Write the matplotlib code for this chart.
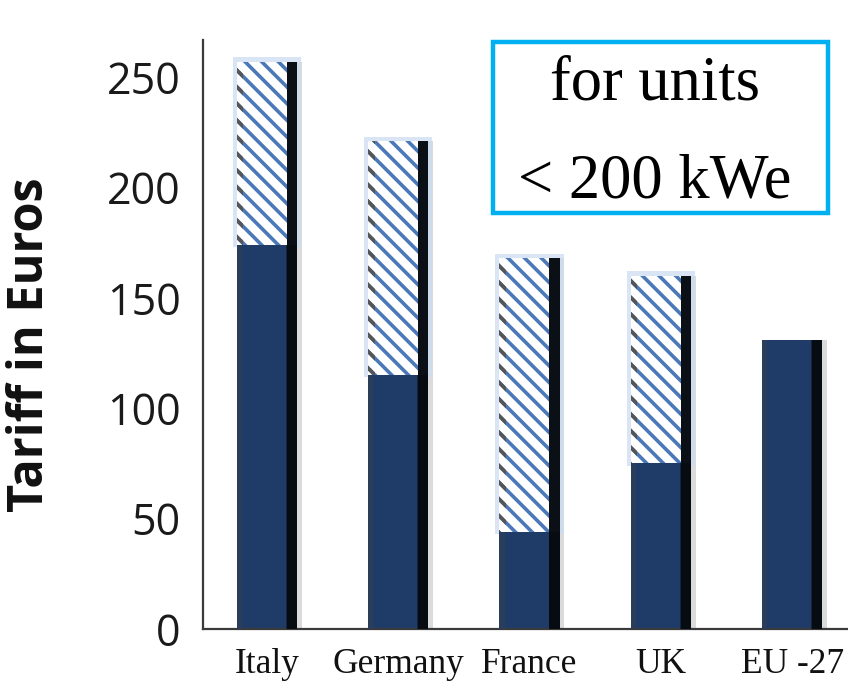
import matplotlib
matplotlib.use("Agg")
import matplotlib.pyplot as plt
from matplotlib.patches import Rectangle
import numpy as np

countries = ["Italy", "Germany", "France", "UK", "EU -27"]
base_tariff = [174, 115, 44, 75, 131]          # dark navy part
extra_tariff = [83, 106, 124, 85, 0]           # hatched part on top
y_ticks = [0, 50, 100, 150, 200, 250]
box_lines = ["for units", "< 200 kWe"]

plt.rcParams['hatch.linewidth'] = 2.6

W, H = 848, 684
fig = plt.figure(figsize=(W / 100, H / 100), dpi=100)
ax = fig.add_axes([203 / W, 55 / H, (W - 203) / W, 589 / H])

x = np.arange(len(countries))
base = np.array(base_tariff, dtype=float)
extra = np.array(extra_tariff, dtype=float)
w = 0.46
strip = 0.08

# soft shadow to the right of every bar
ax.bar(x + 0.035, base + extra, width=w, color="#9a9a9a", alpha=0.35, zorder=1, linewidth=0)

# dark navy base bars with a simple bevel look
ax.bar(x, base, width=w, color="#1F3C69", linewidth=0, zorder=2)
ax.bar(x - w / 2 + 0.02, base, width=0.04, color="#2A3E5C", linewidth=0, zorder=3)
ax.bar(x + w / 2 - strip / 2 - 0.03, base, width=0.03, color="#13243F", linewidth=0, zorder=3)
ax.bar(x + w / 2 - strip / 2, base, width=strip, color="#070B12", linewidth=0, zorder=3)

# hatched upper parts
has = extra > 0
xe, be, ee = x[has], base[has], extra[has]
ax.bar(xe, ee + 3, bottom=be - 1, width=w + 0.06, color="#C9DBF1", alpha=0.7,
       linewidth=0, zorder=1.5)
ax.bar(xe, ee, bottom=be, width=w, facecolor="white", edgecolor="#4A78B8",
       hatch="\\\\", linewidth=0, zorder=2)
ax.bar(xe - w / 2 + 0.025, ee, bottom=be, width=0.05, facecolor="none",
       edgecolor="#555555", hatch="\\\\", linewidth=0, zorder=2.5)
ax.bar(xe + w / 2 - strip / 2, ee, bottom=be, width=strip, color="#0B0F16",
       linewidth=0, zorder=3)

ax.set_xlim(-0.487, 4.425)
ax.set_ylim(0, 266.8)
ax.set_yticks(y_ticks)
ax.set_yticklabels([str(v) for v in y_ticks], family="Open Sans", fontsize=31, color="#1a1a1a")
ax.set_xticks(x)
ax.set_xticklabels(countries, family="Liberation Serif", fontsize=25.5, color="#111111")
ax.tick_params(axis="y", length=0, pad=16)
ax.tick_params(axis="x", length=0, pad=14)

for s in ["top", "right"]:
    ax.spines[s].set_visible(False)
for s in ["left", "bottom"]:
    ax.spines[s].set_color("#3a3a3a")
    ax.spines[s].set_linewidth(1.6)

fig.text(31 / W, 1 - 345 / H, "Tariff in Euros", rotation=90, family="Open Sans",
         fontweight="bold", fontsize=35, ha="center", va="center", color="#111111")

# annotation box
box = Rectangle((493 / W, 1 - 213 / H), 335 / W, 171 / H, transform=fig.transFigure,
                facecolor="white", edgecolor="#00B0F0", linewidth=3.2, zorder=10)
fig.add_artist(box)
fig.text(655 / W, 1 - 100 / H, box_lines[0], family="Liberation Serif", fontsize=45,
         ha="center", va="baseline", color="black", zorder=11)
fig.text(655 / W, 1 - 198 / H, box_lines[1], family="Liberation Serif", fontsize=45,
         ha="center", va="baseline", color="black", zorder=11)

fig.savefig("out.png", dpi=100)
